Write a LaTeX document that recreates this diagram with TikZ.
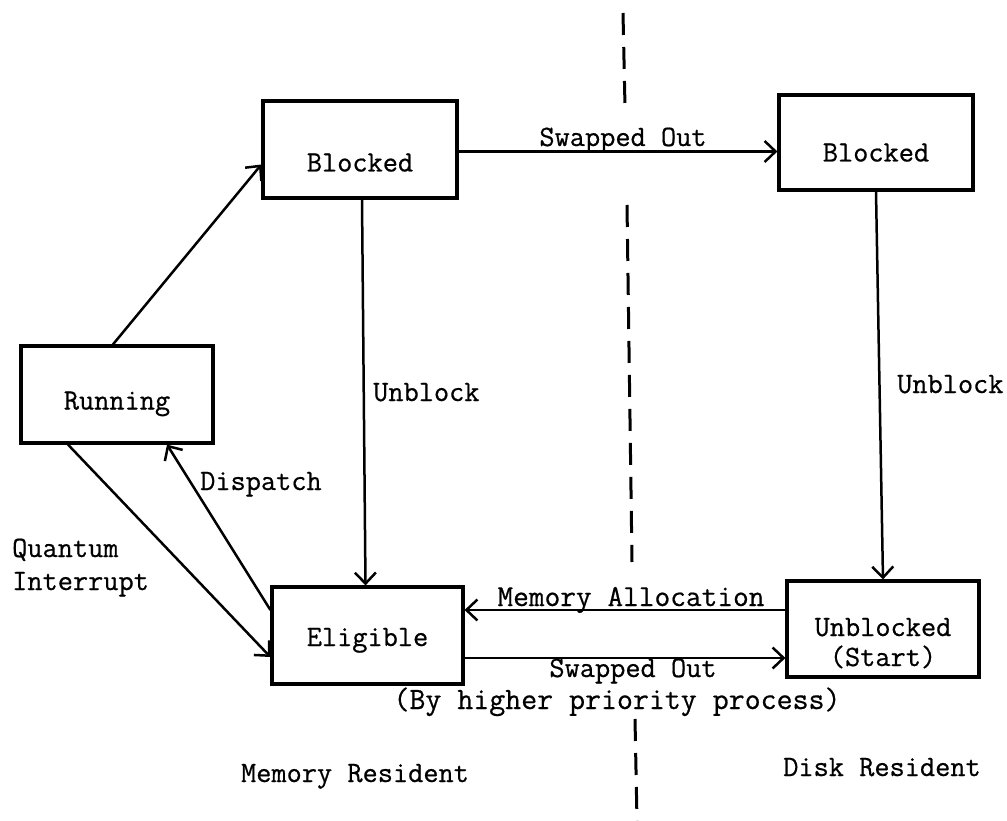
\documentclass[tikz,border=0pt]{standalone}
\usepackage{fontspec}
\newfontfamily\typew{Latin Modern Mono}[FakeBold=0.6]
\usetikzlibrary{arrows.meta}
\begin{document}
\begin{tikzpicture}[x=1pt,y=-1pt,
  every node/.style={font=\typew\fontsize{29.5}{30}\selectfont},
  state/.style={draw,line width=3.2pt,minimum width=194pt,minimum height=97pt,inner sep=0pt,text depth=0pt},
  conn/.style={line width=2.5pt,-{Straight Barb[length=11pt,width=21pt,line width=2.5pt]}},
  lbl/.style={inner sep=0pt,anchor=base},
  sep/.style={line width=3pt,dash pattern=on 22pt off 12pt}]
\useasboundingbox (0,0) rectangle (1007,821);

% states
\node[state,minimum width=192pt,text height=30pt] (running) at (117,394.5) {Running};
\node[state,text height=44pt] (blockedA) at (360,149.5) {Blocked};
\node[state,minimum height=95pt,text height=38pt] (blockedB) at (876,142.5) {Blocked};
\node[state,minimum width=191pt,text height=21pt] (eligible) at (367.5,635.5) {Eligible};
\node[state,minimum width=192pt,minimum height=96pt,text height=14pt] (unblocked) at (883,629)
  {\begin{tabular}[t]{@{}c@{}}Unblocked\\(Start)\end{tabular}};

% connector end points
\coordinate (rnA) at ([xshift=-4pt]running.north);
\coordinate (bAin) at ([yshift=-15pt]blockedA.west);
\coordinate (swA) at ([yshift=-2pt]blockedA.east);
\coordinate (ubA1) at ([xshift=2pt]blockedA.south);
\coordinate (ubA2) at ([xshift=-2pt]eligible.north);
\coordinate (qi1) at ([xshift=-49pt]running.south);
\coordinate (qi2) at ([yshift=-21.5pt]eligible.west);
\coordinate (dp1) at ([yshift=25.5pt]eligible.west);
\coordinate (dp2) at ([xshift=50pt]running.south);
\coordinate (ma) at ([yshift=19pt]unblocked.west);
\coordinate (swB) at ([yshift=-22.5pt]eligible.east);

% connectors
\draw[conn] (rnA) -- (bAin);
\draw[conn] (swA) -- (swA -| blockedB.west);
\draw[conn] (ubA1) -- (ubA2);
\draw[conn] (blockedB.south) -- (unblocked.north);
\draw[conn] (qi1) -- (qi2);
\draw[conn] (dp1) -- (dp2);
\draw[conn] (ma) -- (ma -| eligible.east);
\draw[conn] (swB) -- (swB -| unblocked.west);

% dashed separator
\coordinate (d1a) at (623,13);
\coordinate (d1b) at (625,107);
\coordinate (d2a) at (627,205);
\coordinate (d2b) at (632,562);
\coordinate (d3a) at (635,719);
\coordinate (d3b) at (637,821);
\draw[sep] (d1a) -- (d1b);
\draw[sep] (d2a) -- (d2b);
\draw[sep] (d3a) -- (d3b);

% labels
\node[lbl] (lswA) at (623,146) {Swapped Out};
\node[lbl,anchor=base west] (lubA) at (373,401) {Unblock};
\node[lbl,anchor=base west] (lubB) at (897,393) {Unblock};
\node[lbl,anchor=base west] (ldp) at (200,490) {Dispatch};
\node[lbl,anchor=base west] (lqi) at (12,557)
  {\begin{tabular}[t]{@{}l@{}}Quantum\\[3pt]Interrupt\end{tabular}};
\node[lbl,font=\typew\fontsize{30.5}{31}\selectfont] (lma) at (631,606) {Memory Allocation};
\node[lbl] (lswB) at (633,677) {Swapped Out};
\node[lbl,font=\typew\fontsize{31}{32}\selectfont] (lby) at (617,709) {(By higher priority process)};
\node[lbl] (lmr) at (355,782) {Memory Resident};
\node[lbl] (ldr) at (882,776) {Disk Resident};
\end{tikzpicture}
\end{document}
